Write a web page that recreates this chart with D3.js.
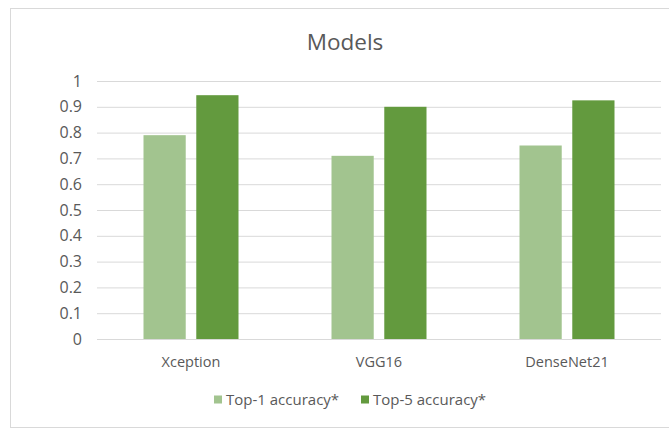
<!DOCTYPE html>
<html>
<head>
<meta charset="utf-8">
<script src="https://cdn.jsdelivr.net/npm/d3@7"></script>
<style>
  html, body { margin: 0; padding: 0; background: #ffffff; }
  svg { display: block; font-family: "Open Sans", Lato, sans-serif; }
</style>
</head>
<body>
<svg id="chart" width="669" height="430"></svg>
<script>
// Model accuracy data
const models = ["Xception", "VGG16", "DenseNet21"];
const seriesNames = ["Top-1 accuracy*", "Top-5 accuracy*"];
const top1 = [0.79, 0.71, 0.75];
const top5 = [0.945, 0.90, 0.925];
const yTicks = [0, 0.1, 0.2, 0.3, 0.4, 0.5, 0.6, 0.7, 0.8, 0.9, 1];
const seriesColors = ["#a2c48f", "#639a3e"];

const seriesValues = [top1, top5];
const rows = models.map((m, i) => ({
  model: m,
  values: seriesNames.map((s, j) => ({ series: s, value: seriesValues[j][i] }))
}));

const FONT = "'Open Sans', Lato, sans-serif";
const TEXT = "#595959";

const svg = d3.select("#chart");

// chart frame (right edge runs past the canvas)
svg.append("rect")
  .attr("x", 10.5).attr("y", 8.5)
  .attr("width", 700).attr("height", 419)
  .attr("fill", "#ffffff")
  .attr("stroke", "#d9d9d9").attr("stroke-width", 1);

const plot = { left: 97, right: 661, top: 81, bottom: 339 };

const y = d3.scaleLinear().domain([0, 1]).range([plot.bottom, plot.top]);
const x0 = d3.scaleBand().domain(models).range([plot.left, plot.right]).padding(0);
const groupW = 95;
const x1 = d3.scaleBand().domain(seriesNames)
  .range([x0.bandwidth() / 2 - groupW / 2, x0.bandwidth() / 2 + groupW / 2])
  .paddingInner(0.2).paddingOuter(0);
const color = d3.scaleOrdinal().domain(seriesNames).range(seriesColors);

// title
svg.append("text")
  .attr("x", 345).attr("y", 50)
  .attr("text-anchor", "middle")
  .attr("font-family", FONT)
  .attr("font-size", 22.5)
  .attr("fill", TEXT)
  .text("Models");

// y axis with horizontal gridlines
const yAxis = d3.axisLeft(y)
  .tickValues(yTicks)
  .tickFormat(d => d3.format("~g")(d))
  .tickSize(-(plot.right - plot.left))
  .tickPadding(15);

const gy = svg.append("g")
  .attr("transform", `translate(${plot.left},0)`)
  .call(yAxis);
gy.select(".domain").remove();
gy.selectAll(".tick line").attr("stroke", "#d9d9d9").attr("stroke-width", 1);
gy.selectAll(".tick text")
  .attr("fill", TEXT)
  .attr("font-size", 16)
  .attr("font-family", FONT);

// bars
const groups = svg.append("g").selectAll("g")
  .data(rows)
  .join("g")
  .attr("transform", d => `translate(${x0(d.model)},0)`);

groups.selectAll("rect")
  .data(d => d.values)
  .join("rect")
  .attr("x", d => x1(d.series))
  .attr("width", x1.bandwidth())
  .attr("y", d => y(d.value))
  .attr("height", d => y(0) - y(d.value))
  .attr("fill", d => color(d.series));

// x axis labels
const xAxis = d3.axisBottom(x0).tickSize(0).tickPadding(18);
const gx = svg.append("g")
  .attr("transform", `translate(0,${plot.bottom})`)
  .call(xAxis);
gx.select(".domain").remove();
gx.selectAll(".tick text")
  .attr("fill", TEXT)
  .attr("font-size", 14.5)
  .attr("font-family", FONT);

// legend
const legendY = 405;
const legendX = [214, 361];
const legend = svg.append("g").selectAll("g")
  .data(seriesNames)
  .join("g")
  .attr("transform", (d, i) => `translate(${legendX[i]},${legendY})`);
legend.append("rect")
  .attr("x", 0).attr("y", -9.5)
  .attr("width", 8).attr("height", 8)
  .attr("fill", d => color(d));
legend.append("text")
  .attr("x", 12).attr("y", 0)
  .attr("font-family", FONT)
  .attr("font-size", 15)
  .attr("fill", TEXT)
  .text(d => d);
</script>
</body>
</html>
